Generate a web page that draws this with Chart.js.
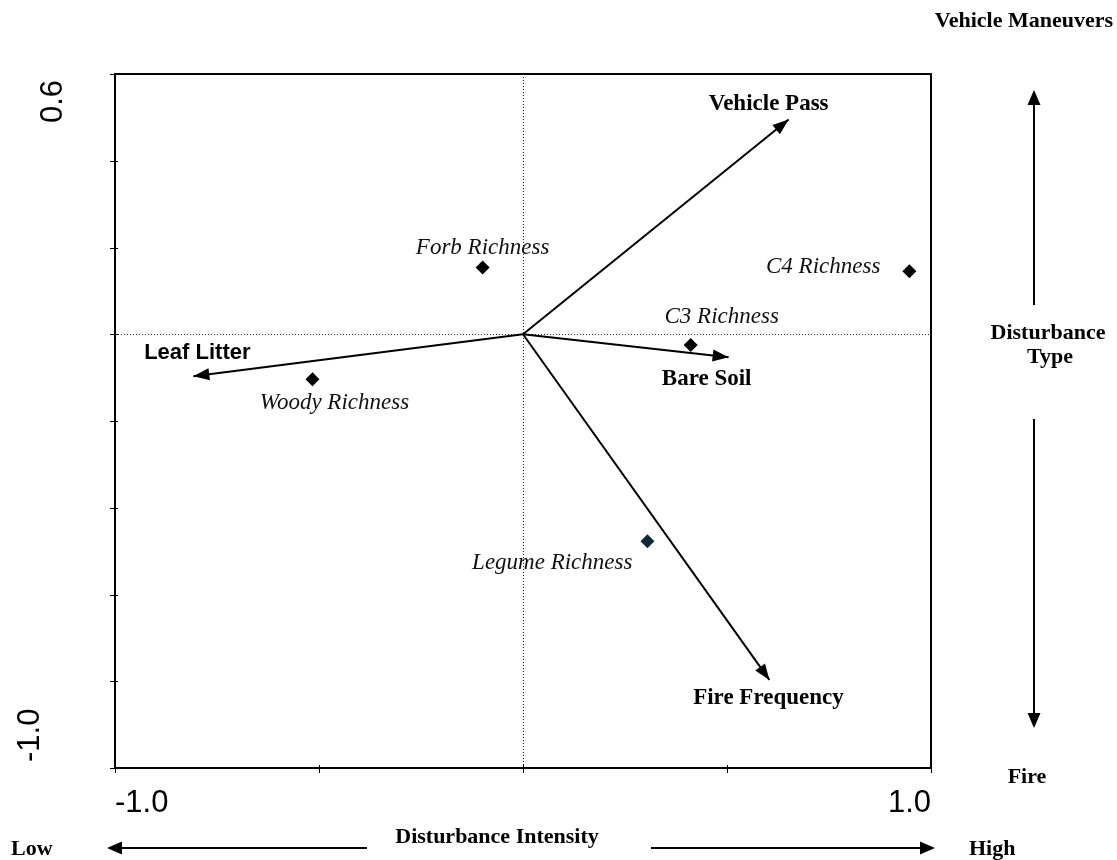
<!DOCTYPE html>
<html>
<head>
<meta charset="utf-8">
<script src="https://cdn.jsdelivr.net/npm/chart.js@4.4.1/dist/chart.umd.min.js"></script>
<style>
  html, body { margin: 0; padding: 0; background: #ffffff; }
  #wrap { width: 1117px; height: 860px; position: relative; }
</style>
</head>
<body>
<div id="wrap"><canvas id="ordination" width="1117" height="860"></canvas></div>
<script>
// Species richness scores (ordination axes 1 and 2)
const speciesNames = ['Forb Richness', 'C4 Richness', 'C3 Richness', 'Woody Richness', 'Legume Richness'];
const speciesX = [-0.099, 0.947, 0.411, -0.516, 0.305];
const speciesY = [0.154, 0.145, -0.025, -0.104, -0.477];

// Environmental vectors (biplot arrows from the origin)
const vectorNames = ['Vehicle Pass', 'Bare Soil', 'Leaf Litter', 'Fire Frequency'];
const vectorX = [0.651, 0.504, -0.808, 0.604];
const vectorY = [0.495, -0.053, -0.097, -0.797];

// Axis ticks and the labels shown at the ends of each axis
const xTickValues = [-1.0, -0.5, 0, 0.5, 1.0];
const yTickValues = [-1.0, -0.8, -0.6, -0.4, -0.2, 0, 0.2, 0.4, 0.6];
const xEndLabels = ['-1.0', '1.0'];
const yEndLabels = ['-1.0', '0.6'];

const SERIF = "'Times New Roman', 'Liberation Serif', serif";
const SANS = "Arial, 'Liberation Sans', sans-serif";

// Label placement for each mark (pixel offsets from the mark)
const speciesLabelStyle = {
  'Forb Richness':   { dx: 0,   dy: -13, align: 'center' },
  'C4 Richness':     { dx: -29, dy: 2,   align: 'right' },
  'C3 Richness':     { dx: 31,  dy: -22, align: 'center' },
  'Woody Richness':  { dx: 22,  dy: 30,  align: 'center' },
  'Legume Richness': { dx: -15, dy: 28,  align: 'right' }
};
const speciesColor = {
  'Legume Richness': '#10283a'
};
const vectorLabelStyle = {
  'Vehicle Pass':   { dx: -20, dy: -10, align: 'center', font: 'bold 23px ' + SERIF },
  'Bare Soil':      { dx: -22, dy: 28,  align: 'center', font: 'bold 23px ' + SERIF },
  'Leaf Litter':    { dx: 4,   dy: -17, align: 'center', font: 'bold 22px ' + SANS },
  'Fire Frequency': { dx: -1,  dy: 24,  align: 'center', font: 'bold 23px ' + SERIF }
};

function arrowHead(ctx, x, y, ang, len, half) {
  const c = Math.cos(ang), s = Math.sin(ang);
  ctx.beginPath();
  ctx.moveTo(x, y);
  ctx.lineTo(x - len * c + half * s, y - len * s - half * c);
  ctx.lineTo(x - len * c - half * s, y - len * s + half * c);
  ctx.closePath();
  ctx.fill();
}

function arrowLine(ctx, x1, y1, x2, y2) {
  const ang = Math.atan2(y2 - y1, x2 - x1);
  ctx.beginPath();
  ctx.moveTo(x1, y1);
  ctx.lineTo(x2 - 10 * Math.cos(ang), y2 - 10 * Math.sin(ang));
  ctx.stroke();
  arrowHead(ctx, x2, y2, ang, 15, 6.5);
}

const datasets = [];
datasets.push({
  label: 'species',
  type: 'scatter',
  data: speciesNames.map((n, i) => ({ x: speciesX[i], y: speciesY[i] })),
  pointStyle: 'rectRot',
  pointRadius: 7,
  pointHoverRadius: 7,
  borderWidth: 0,
  backgroundColor: speciesNames.map(n => speciesColor[n] || '#000000'),
  order: 0
});
vectorNames.forEach((n, i) => {
  datasets.push({
    label: n,
    type: 'line',
    data: [{ x: 0, y: 0 }, { x: vectorX[i], y: vectorY[i] }],
    showLine: true,
    borderColor: '#000000',
    borderWidth: 2,
    borderCapStyle: 'butt',
    pointRadius: 0,
    fill: false,
    tension: 0,
    order: 1,
    isVector: true
  });
});

const framePlugin = {
  id: 'frameAndTicks',
  afterDatasetsDraw(chart) {
    const { ctx, chartArea: a, scales: { x, y } } = chart;
    ctx.save();
    ctx.strokeStyle = '#000';
    ctx.lineWidth = 2;
    ctx.strokeRect(a.left, a.top, a.right - a.left, a.bottom - a.top);
    ctx.lineWidth = 1;
    xTickValues.forEach(v => {
      const px = Math.round(x.getPixelForValue(v)) + 0.5;
      ctx.beginPath(); ctx.moveTo(px, a.bottom - 3); ctx.lineTo(px, a.bottom + 5); ctx.stroke();
    });
    yTickValues.forEach(v => {
      const py = Math.round(y.getPixelForValue(v)) + 0.5;
      ctx.beginPath(); ctx.moveTo(a.left - 5, py); ctx.lineTo(a.left + 3, py); ctx.stroke();
    });

    // End labels on both axes
    ctx.fillStyle = '#000';
    ctx.font = '31px ' + SANS;
    ctx.textBaseline = 'alphabetic';
    ctx.textAlign = 'left';
    ctx.fillText(xEndLabels[0], x.getPixelForValue(-1.0), a.bottom + 44);
    ctx.textAlign = 'right';
    ctx.fillText(xEndLabels[1], x.getPixelForValue(1.0), a.bottom + 44);

    ctx.save();
    ctx.translate(38 + 24, y.getPixelForValue(0.6) + 6);
    ctx.rotate(-Math.PI / 2);
    ctx.textAlign = 'right';
    ctx.fillText(yEndLabels[1], 0, 0);
    ctx.restore();
    ctx.save();
    ctx.translate(15 + 24, y.getPixelForValue(-1.0) - 6);
    ctx.rotate(-Math.PI / 2);
    ctx.textAlign = 'left';
    ctx.fillText(yEndLabels[0], 0, 0);
    ctx.restore();
    ctx.restore();
  }
};

const markLabelPlugin = {
  id: 'markLabels',
  afterDatasetsDraw(chart) {
    const ctx = chart.ctx;
    ctx.save();
    ctx.textBaseline = 'alphabetic';
    // arrowheads on the vectors
    chart.data.datasets.forEach((ds, i) => {
      if (!ds.isVector) return;
      const pts = chart.getDatasetMeta(i).data;
      const p0 = pts[0], p1 = pts[1];
      const ang = Math.atan2(p1.y - p0.y, p1.x - p0.x);
      ctx.fillStyle = '#000';
      arrowHead(ctx, p1.x, p1.y, ang, 16, 6);
      const st = vectorLabelStyle[ds.label];
      ctx.font = st.font;
      ctx.textAlign = st.align;
      ctx.fillText(ds.label, p1.x + st.dx, p1.y + st.dy);
    });
    // species labels
    const meta = chart.getDatasetMeta(0);
    ctx.font = 'italic 23px ' + SERIF;
    ctx.fillStyle = '#111';
    speciesNames.forEach((n, i) => {
      const p = meta.data[i];
      const st = speciesLabelStyle[n];
      ctx.textAlign = st.align;
      ctx.fillText(n, p.x + st.dx, p.y + st.dy);
    });
    ctx.restore();
  }
};

const outerPlugin = {
  id: 'outerAnnotations',
  afterDraw(chart) {
    const ctx = chart.ctx;
    ctx.save();
    ctx.fillStyle = '#000';
    ctx.strokeStyle = '#000';
    ctx.lineWidth = 2;
    ctx.font = 'bold 22px ' + SERIF;
    ctx.textBaseline = 'alphabetic';

    ctx.textAlign = 'right';
    ctx.fillText('Vehicle Maneuvers', 1113, 27);
    ctx.textAlign = 'center';
    ctx.fillText('Disturbance', 1048, 339);
    ctx.fillText('Type', 1050, 363);
    ctx.fillText('Fire', 1027, 783);

    arrowLine(ctx, 1034, 305, 1034, 90);
    arrowLine(ctx, 1034, 419, 1034, 728);

    ctx.textAlign = 'left';
    ctx.fillText('Low', 11, 855);
    ctx.fillText('High', 969, 855);
    ctx.textAlign = 'center';
    ctx.fillText('Disturbance Intensity', 497, 843);
    arrowLine(ctx, 367, 848, 107, 848);
    arrowLine(ctx, 651, 848, 935, 848);
    ctx.restore();
  }
};

const zeroOnly = c => (Math.abs(c.tick.value) < 1e-9 ? '#222222' : 'rgba(0,0,0,0)');

new Chart(document.getElementById('ordination'), {
  type: 'scatter',
  data: { datasets },
  options: {
    responsive: false,
    animation: false,
    devicePixelRatio: 1,
    layout: { padding: { left: 115, right: 186, top: 74, bottom: 92 } },
    plugins: { legend: { display: false }, tooltip: { enabled: false } },
    scales: {
      x: {
        type: 'linear', min: -1.0, max: 1.0,
        ticks: { display: false, stepSize: 0.5 },
        grid: { drawTicks: false, color: zeroOnly, lineWidth: 1 },
        border: { display: false, dash: [1, 2] },
        afterFit: s => { s.height = 0; }
      },
      y: {
        type: 'linear', min: -1.0, max: 0.6,
        ticks: { display: false, stepSize: 0.2 },
        grid: { drawTicks: false, color: zeroOnly, lineWidth: 1 },
        border: { display: false, dash: [1, 2] },
        afterFit: s => { s.width = 0; }
      }
    }
  },
  plugins: [framePlugin, markLabelPlugin, outerPlugin]
});
</script>
</body>
</html>
